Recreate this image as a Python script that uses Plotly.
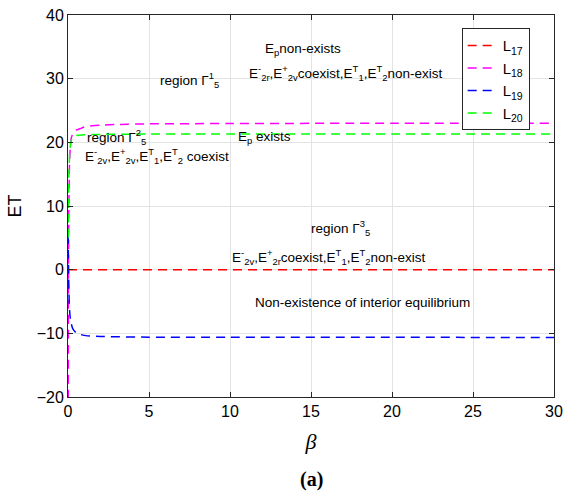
import plotly.graph_objects as go

beta_l17 = [0.0, 30.0]
l17 = [0.0, 0.0]

beta_l18 = [0.012, 0.02, 0.03, 0.05, 0.08, 0.1, 0.15, 0.2, 0.3, 0.5, 0.8, 1.0, 1.5, 2.0, 3.0, 5.0, 10.0, 20.0, 30.0]
l18 = [-25.0, -12.0, 0.0, 9.0, 15.0, 17.2, 19.5, 20.6, 21.4, 21.9, 22.2, 22.4, 22.6, 22.7, 22.8, 22.9, 22.95, 23.0, 23.0]

beta_l19 = [0.01, 0.02, 0.04, 0.06, 0.1, 0.15, 0.2, 0.3, 0.5, 0.8, 1.2, 2.0, 5.0, 10.0, 30.0]
l19 = [5.5, 3.0, -1.0, -3.8, -6.5, -7.8, -8.5, -9.3, -9.9, -10.2, -10.4, -10.5, -10.6, -10.6, -10.65]

beta_l20 = [0.01, 0.02, 0.04, 0.06, 0.1, 0.15, 0.2, 0.3, 0.5, 1.0, 2.0, 5.0, 30.0]
l20 = [5.0, 8.0, 12.5, 15.5, 18.2, 19.6, 20.3, 20.8, 21.05, 21.2, 21.25, 21.3, 21.3]

x_ticks = [0, 5, 10, 15, 20, 25, 30]
y_ticks = [-20, -10, 0, 10, 20, 30, 40]

fig = go.Figure()
dash = "9px,6px"
for xs, ys, name, col in [
    (beta_l17, l17, "L<sub>17</sub>", "#ff0000"),
    (beta_l18, l18, "L<sub>18</sub>", "#ff00ff"),
    (beta_l19, l19, "L<sub>19</sub>", "#0000ff"),
    (beta_l20, l20, "L<sub>20</sub>", "#00ff00"),
]:
    fig.add_trace(go.Scatter(x=xs, y=ys, mode="lines", name=name,
                             line=dict(color=col, width=1.5, dash=dash, shape="spline", smoothing=0.6)))

ann = [
    (14.5, 34.6, "E<sub>p</sub>non-exists"),
    (17.1, 30.9, "E<sup>-</sup><sub>2r</sub>,E<sup>+</sup><sub>2v</sub>coexist,E<sup>T</sup><sub>1</sub>,E<sup>T</sup><sub>2</sub>non-exist"),
    (7.5, 29.8, "region Γ<sup>1</sup><sub>5</sub>"),
    (3.0, 20.8, "region Γ<sup>2</sup><sub>5</sub>"),
    (5.5, 17.9, "E<sup>-</sup><sub>2v</sub>,E<sup>+</sup><sub>2v</sub>,E<sup>T</sup><sub>1</sub>,E<sup>T</sup><sub>2</sub> coexist"),
    (12.1, 20.8, "E<sub>p</sub> exists"),
    (16.8, 6.6, "region Γ<sup>3</sup><sub>5</sub>"),
    (16.1, 2.0, "E<sup>-</sup><sub>2v</sub>,E<sup>+</sup><sub>2r</sub>coexist,E<sup>T</sup><sub>1</sub>,E<sup>T</sup><sub>2</sub>non-exist"),
    (18.2, -5.2, "Non-existence of interior equilibrium"),
]
for x, y, t in ann:
    fig.add_annotation(x=x, y=y, text=t, showarrow=False,
                       font=dict(family="Liberation Sans, Arial", size=13.5, color="black"))

fig.add_annotation(xref="paper", yref="paper", x=0.5, y=-0.215, yanchor="middle", text="<b>(a)</b>", showarrow=False,
                   font=dict(family="Liberation Serif, Times New Roman", size=20, color="black"))

axis_common = dict(showline=True, linecolor="#262626", linewidth=1, mirror="ticks",
                   ticks="inside", ticklen=5, tickcolor="#262626", automargin=False,
                   showgrid=True, gridcolor="#e3e3e3", gridwidth=1, zeroline=False,
                   tickfont=dict(family="Liberation Sans, Arial", size=16, color="black"))

fig.update_layout(
    width=565, height=493,
    margin=dict(l=68, r=11, t=15, b=96),
    paper_bgcolor="white", plot_bgcolor="white",
    xaxis=dict(range=[0, 30], tickvals=x_ticks,
               title=dict(text="<i>β</i>", font=dict(family="Liberation Serif, Times New Roman", size=22, color="black"), standoff=14),
               **axis_common),
    yaxis=dict(range=[-20, 40], tickvals=y_ticks,
               title=dict(text="ET", font=dict(family="Liberation Sans, Arial", size=18, color="black"), standoff=10),
               **axis_common),
    legend=dict(x=0.81, y=0.965, xanchor="left", yanchor="top",
                bgcolor="white", bordercolor="#262626", borderwidth=1,
                font=dict(family="Liberation Sans, Arial", size=15, color="black"),
                tracegroupgap=5, itemwidth=30),
    showlegend=True,
)

fig.write_html("out.html")
